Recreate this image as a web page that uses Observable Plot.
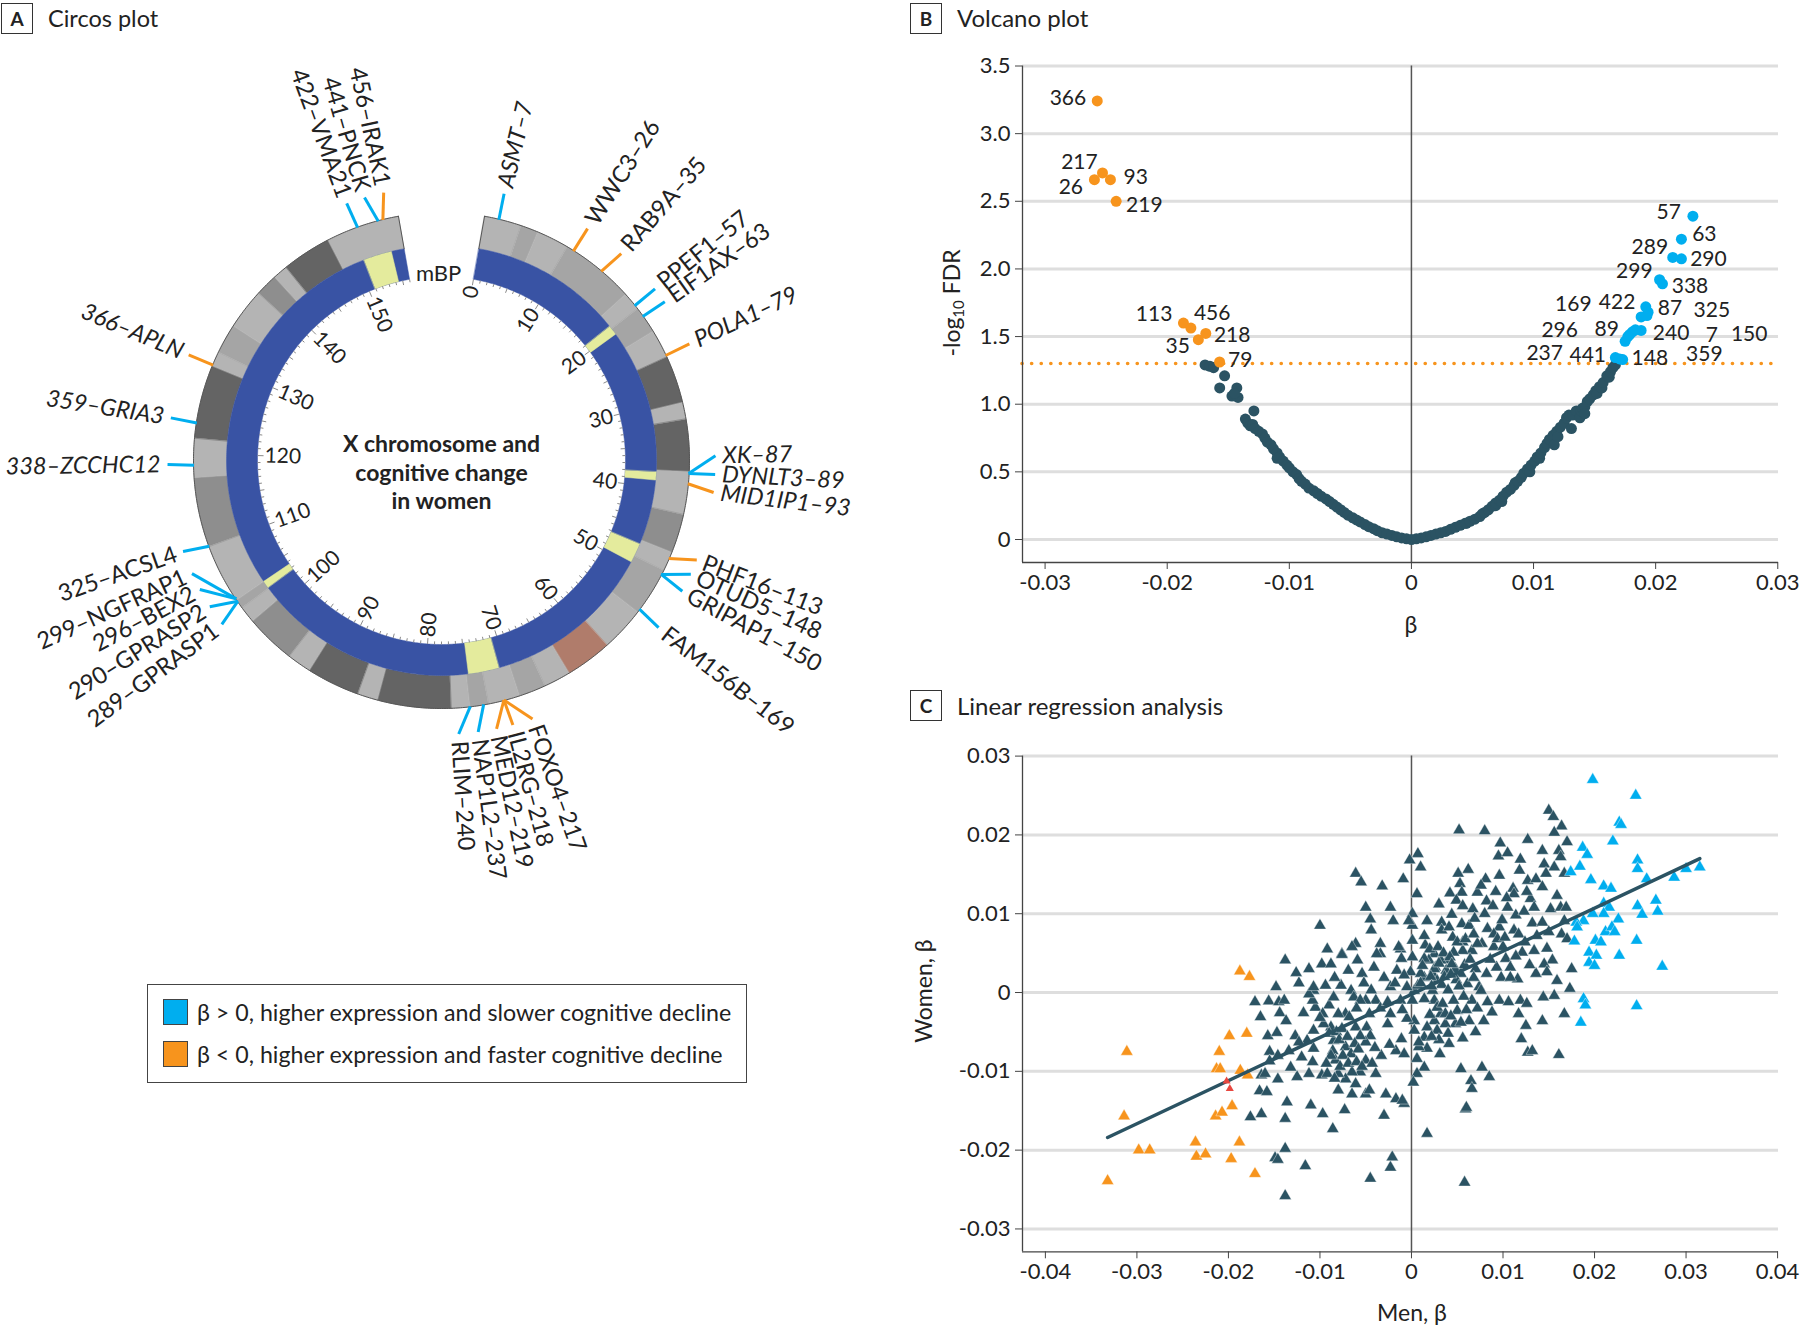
<!DOCTYPE html>
<html><head><meta charset="utf-8">
<script src="https://cdn.jsdelivr.net/npm/d3@7"></script>
<script src="https://cdn.jsdelivr.net/npm/@observablehq/plot@0.6"></script>
<style>
body{margin:0;background:#fff;}
#root{position:relative;width:1800px;height:1326px;overflow:hidden;font-family:Lato,"Open Sans",sans-serif;color:#222;}
.abs{position:absolute;white-space:nowrap;}
.pbox{box-sizing:border-box;width:32px;height:31px;border:1.5px solid #333;font-weight:bold;font-size:19px;display:flex;align-items:center;justify-content:center;}
.ptitle{font-size:24px;line-height:30px;}
</style></head>
<body><div id="root"></div>
<script>
const FONT = 'Lato, "Open Sans", "DejaVu Sans", sans-serif';
const BLUE = "#00aeef", ORANGE = "#f7941d", TEAL = "#2b5363", RINGBLUE = "#3953a4", YELLOW = "#e4eb9d";

// ---------------- Panel A: circos data ----------------
const chrLengthMb = 156;
// cytoband shading of outer ring: [start Mb, end Mb, shade]
const cytoBands = [[0,4.0,"L"],[4.0,5.9,"M"],[5.9,9.4,"L"],[9.4,17.4,"M"],[17.4,19.4,"L"],[19.4,22.3,"M"],[22.3,25.4,"L"],[25.4,30.5,"D"],[30.5,32.3,"L"],[32.3,37.9,"D"],[37.9,42.5,"L"],[42.5,46.7,"G"],[46.7,48.8,"L"],[48.8,54.0,"M"],[54.0,58.8,"L"],[58.8,63.8,"C"],[63.8,66.7,"L"],[66.7,69.6,"M"],[69.6,73.0,"L"],[73.0,75.0,"M"],[75.0,77.0,"L"],[77.0,84.9,"D"],[84.9,87.1,"L"],[87.1,92.8,"D"],[92.8,95.4,"L"],[95.4,100.8,"G"],[100.8,102.6,"L"],[102.6,103.6,"M"],[103.6,110.0,"L"],[110.0,117.5,"G"],[117.5,121.7,"L"],[121.7,129.6,"D"],[129.6,131.2,"L"],[131.2,134.4,"M"],[134.4,138.8,"L"],[138.8,141.2,"G"],[141.2,142.8,"L"],[142.8,148.1,"D"],[148.1,156,"L"]];
const shadeColors = {L:"#b4b4b4", M:"#a5a5a5", G:"#8e8e8e", D:"#646464", C:"#b07c6b"};
// highlighted gene regions on the inner (blue) ring
const highlightBands = [[19.0,20.2],[38.1,39.1],[47.2,49.6],[70.9,74.7],[102.7,103.6],[150.9,154.4]];
const chrTickLabels = [0,10,20,30,40,50,60,70,80,90,100,110,120,130,140,150];
// id, gene, ring position (Mb), label position (Mb), sign of beta, italic
const circosGenes = [
 [7,"ASMT",1.56,1.47,1,true],[26,"WWC3",10.19,10.19,-1,false],[35,"RAB9A",13.86,14.22,-1,false],
 [57,"PPEF1",18.95,18.9,1,false],[63,"EIF1AX",20.37,20.46,1,false],[79,"POLA1",25.19,25.14,-1,true],
 [87,"XK",38.08,36.25,1,true],[89,"DYNLT3",38.08,38.04,1,true],[93,"MID1IP1",39.18,39.78,-1,true],
 [113,"PHF16",47.4,46.48,-1,false],[148,"OTUD5",49.28,47.95,1,false],[150,"GRIPAP1",49.28,49.78,1,false],
 [169,"FAM156B",53.64,53.96,1,false],[217,"FOXO4",71.3,69.1,-1,false],[218,"IL2RG",71.3,71.07,-1,false],
 [219,"MED12",71.3,72.68,-1,false],[237,"NAP1L2",73.5,74.47,1,false],[240,"RLIM",74.93,76.35,1,false],
 [289,"GPRASP1",103.4,102.45,1,false],[290,"GPRASP2",103.4,104.5,1,false],[296,"BEX2",103.7,106.4,1,false],
 [299,"NGFRAP1",103.7,108.1,1,false],[325,"ACSL4",110.0,110.4,1,false],[338,"ZCCHC12",118.8,118.9,1,true],
 [359,"GRIA3",123.3,123.4,1,true],[366,"APLN",129.7,129.7,-1,true],[422,"VMA21",151.5,151.3,1,false],
 [441,"PNCK",153.8,153.1,1,false],[456,"IRAK1",154.3,155.0,-1,false]
];
const centerTitle = "X chromosome and\ncognitive change\nin women";
const legendLabels = ["β > 0, higher expression and slower cognitive decline", "β < 0, higher expression and faster cognitive decline"];

// ---------------- Panel B: volcano data (beta x 1e-3, -log10 FDR) ----------------
const volcanoNeg = [[-16.9,1.29],[-16.5,1.28],[-16.2,1.27],[-15.3,1.21],[-15.7,1.12],[-14.3,1.12],[-14.7,1.06],[-14.2,1.05],[-14.5,1.08],[-12.9,0.95],[-13.6,0.89],[-13.4,0.86],[-13.2,0.84],[-13.0,0.85],[-12.8,0.82],[-12.5,0.80],[-12.2,0.78],[-12.0,0.75],[-11.8,0.72],[-11.5,0.70],[-11.3,0.67],[-11.0,0.64],[-10.8,0.61],[-11.0,0.60],[-10.5,0.58],[-10.2,0.55],[-10.0,0.53],[-9.7,0.50],[-9.4,0.48],[-9.2,0.45],[-9.0,0.43],[-8.7,0.41],[-8.4,0.38],[-8.0,0.36],[-7.7,0.34],[-7.4,0.32],[-7.0,0.30],[-6.7,0.28],[-6.4,0.26],[-6.1,0.24],[-5.8,0.22],[-5.5,0.20],[-5.2,0.18],[-4.8,0.16],[-4.5,0.145],[-4.2,0.13],[-3.8,0.11],[-3.5,0.095],[-3.1,0.08],[-2.8,0.065],[-2.4,0.05],[-2.0,0.04],[-1.6,0.03],[-1.2,0.02],[-0.8,0.012],[-0.4,0.005],[0,0]];
const volcanoPos = [[0.4,0.005],[0.8,0.012],[1.2,0.02],[1.6,0.03],[2.0,0.04],[2.4,0.05],[2.8,0.06],[3.2,0.075],[3.6,0.09],[4.0,0.105],[4.4,0.12],[4.5,0.12],[4.8,0.135],[5.2,0.15],[5.6,0.17],[5.8,0.19],[6.0,0.2],[6.3,0.22],[6.6,0.245],[6.9,0.25],[6.9,0.27],[7.2,0.29],[7.4,0.28],[7.5,0.32],[7.8,0.35],[8.1,0.37],[8.4,0.4],[8.5,0.42],[8.7,0.43],[9.0,0.46],[9.2,0.49],[9.5,0.52],[9.7,0.5],[9.8,0.55],[10.1,0.58],[10.3,0.61],[10.5,0.6],[10.6,0.64],[10.9,0.68],[11.1,0.71],[11.3,0.74],[11.6,0.77],[11.7,0.7],[11.9,0.8],[12.0,0.76],[12.2,0.83],[12.5,0.86],[12.7,0.9],[12.9,0.92],[13.1,0.82],[13.2,0.92],[13.5,0.95],[13.8,0.9],[13.9,0.95],[14.0,0.97],[14.2,0.98],[14.2,0.93],[14.4,1.02],[14.6,1.04],[14.9,1.07],[15.1,1.1],[15.2,1.08],[15.4,1.13],[15.6,1.12],[15.7,1.16],[16.0,1.21],[16.2,1.2],[16.3,1.24],[16.5,1.27],[16.7,1.29]];
// id, beta x1e-3, -log10 FDR, label beta x1e-3, label -log10 FDR
const volcanoOrange = [[366,-25.73,3.242,-28.13,3.258],[217,-25.3,2.71,-27.19,2.789],[26,-25.96,2.66,-27.89,2.605],[93,-24.65,2.66,-22.58,2.675],[219,-24.18,2.50,-21.87,2.467],[113,-18.67,1.60,-21.07,1.664],[456,-18.06,1.563,-16.32,1.670],[218,-16.84,1.523,-14.68,1.511],[35,-17.45,1.477,-19.14,1.425],[79,-15.71,1.312,-14.02,1.324]];
const volcanoBlue = [[57,23.05,2.39,21.07,2.421],[63,22.11,2.22,23.99,2.259],[289,21.4,2.085,19.52,2.158],[290,22.11,2.075,24.32,2.069],[299,20.32,1.92,18.25,1.986],[338,20.56,1.89,22.81,1.869],[169,18.81,1.645,13.26,1.742],[422,19.19,1.72,16.84,1.757],[87,19.38,1.68,21.17,1.707],[325,19.29,1.655,24.6,1.695],[296,17.5,1.465,12.14,1.548],[89,17.87,1.515,15.99,1.555],[240,18.81,1.545,21.26,1.527],[7,18.34,1.55,24.6,1.512],[150,18.1,1.535,27.66,1.517],[237,16.7,1.345,10.91,1.377],[441,17.05,1.335,14.44,1.36],[148,17.3,1.33,19.52,1.337],[359,17.72,1.50,23.99,1.372]];
const volcanoXTicks = [-0.03,-0.02,-0.01,0,0.01,0.02,0.03];
const volcanoYTicks = [0,0.5,1,1.5,2,2.5,3,3.5];
const fdrThreshold = 1.301;

// ---------------- Panel C: men vs women beta (x1e-3) ----------------
const regDark = [[-14.8,0.7],[-17.1,-1.2],[-15.6,-1.1],[-14.5,-1.2],[-16.5,-3.1],[-14.4,-2.6],[-15.7,-5.5],[-14.7,-5.1],[-15.5,-7.5],[-14.6,-8.0],[-15.5,-8.7],[-16.4,-10.5],[-16.0,-10.3],[-14.6,-11.0],[-16.6,-12.5],[-15.8,-12.6],[-17.6,-15.8],[-16.4,-15.4],[-14.9,-21.0],[-14.6,-21.2],
[5.2,20.6],[8.0,20.5],[9.7,18.95],[9.5,17.3],[10.5,17.7],[12.7,19.4],[11.9,16.9],[11.8,15.5],[9.6,14.85],[8.1,14.4],[5.1,15.1],[6.2,15.6],[5.3,13.8],[4.2,12.6],[5.5,12.7],[7.2,12.7],[3.0,11.2],[4.9,11.7],[5.6,11.0],[8.2,11.6],[8.9,11.0],[11.1,13.2],[11.2,12.5],[12.7,14.2],[13.6,14.4],[13.0,11.9],[13.4,10.8],[11.4,9.8],[8.0,10.0],[4.4,9.9],[3.3,8.9],[3.3,7.9],[4.1,8.3],[5.5,8.7],[6.3,8.5],[8.3,8.1],[9.6,8.3],[11.2,7.9],[11.7,7.4],[13.2,8.8],[13.7,7.2],[12.1,5.1],[13.4,5.3],[10.3,4.3],[10.8,3.2],[11.6,1.7],[13.6,2.4],[9.0,5.8],[7.7,6.2],[6.6,5.3],[5.6,6.4],[5.6,5.3],[4.6,5.1],[4.8,3.0],[3.9,4.1],[3.8,2.8],[2.5,4.9],[1.9,4.1],[2.3,2.4],[1.4,1.9],[2.6,3.2],[2.8,1.5],[5.4,2.4],[6.1,1.1],[7.4,0.7],[8.2,2.4],[9.3,3.2],[9.8,1.9],[9.6,-1.0],[10.6,-1.2],[11.9,-1.0],[12.6,-1.4],[11.7,-2.7],[12.5,-4.2],[12.0,-5.9],[12.7,-7.6],[13.2,-7.4],[8.8,-2.5],[6.3,-3.6],[7.0,-5.0],[5.0,-2.3],[4.8,-4.0],[3.7,-4.0],[4.1,-6.5],[3.1,-7.8],[2.5,-3.6],[2.8,-4.8],[1.7,-4.4],[1.4,-5.7],[1.7,-7.1],[0.8,-6.9],[0.6,-8.4],[1.4,-9.5],[0.6,-10.3],[0.2,-11.4],[2.5,-1.0],[1.4,-0.8],[0.3,-3.6],[0.1,-1.0],[0.3,0.25],[0.7,0.9],[-0.1,2.6],[0.1,4.5],[0.1,6.6],[0.1,8.5],[0.1,10.0],[0.6,12.5],[1.0,15.9],[0.7,17.6],[-0.2,16.8],[-0.9,14.4],[-3.2,13.5],[-2.3,10.8],[-2.0,9.1],[-4.5,9.3],[-5.0,10.8],[-4.4,7.9],[-6.1,15.1],[-5.5,14.0],[-3.4,6.2],[-3.4,4.9],[-1.2,5.5],[-1.1,4.3],[-1.6,2.8],[-3.0,1.9],[-2.3,0.7],[-0.8,2.2],[-0.5,0.7],[-1.2,-1.0],[-2.3,-2.7],[-2.6,-4.0],[-3.9,-1.0],[-5.0,-1.0],[-4.6,-2.7],[-4.9,-4.4],[-4.5,-5.5],[-5.9,4.1],[-5.4,2.4],[-6.1,6.2],[-6.5,5.8],[-7.6,4.9],[-7.7,0.9],[-6.6,0.25],[-6.3,-0.6],[-7.2,-2.7],[-8.0,-2.7],[-9.0,-1.6],[-10.7,0.25],[-10.5,-1.9],[-10.8,-1.0],[-9.7,-2.7],[-8.8,-4.4],[-9.6,-4.0],[-8.5,-6.1],[-8.6,-7.4],[-8.3,-8.6],[-7.2,-6.9],[-6.6,-7.8],[-5.0,-6.3],[-5.0,-8.6],[-5.6,-10.1],[-6.5,-10.1],[-7.2,-11.0],[-8.0,-12.4],[-6.5,-12.9],[-5.0,-12.9],[-4.6,-12.4],[-3.9,-10.3],[-2.8,-12.9],[-1.7,-13.5],[-0.8,-14.1],[-1.0,-13.7],[-3.0,-15.6],[-9.7,-15.4],[-11.0,-14.3],[-12.5,-10.7],[-13.2,-9.5],[-11.2,-10.3],[-9.8,-10.5],[-10.8,-8.8],[-12.7,-5.5],[-13.4,-7.4],[-11.4,-6.1],[-10.7,-4.8],[-11.2,-0.2],[-10.7,0.7],[-13.8,4.1],[-12.6,2.5],[-11.2,3.0],[-9.8,3.6],[-8.8,3.6],[-9.2,5.5],[-7.6,4.8],[-10.0,8.5],[-13.9,-1.0],[-13.7,-3.6],[-13.6,-13.9],[-13.8,-16.0],[-7.3,-14.9],[-8.6,-17.3],[-13.8,-19.8],[-11.6,-22.0],[-13.8,-25.8],[-4.5,-23.6],[-2.3,-22.2],[-2.1,-20.9],[1.7,-17.9],[5.9,-14.8],[6.0,-14.6],[5.8,-24.1],[5.4,-9.7],[6.5,-11.2],[6.6,-12.2],[7.7,-9.5],[8.5,-10.7],[-1.7,-7.4],[-0.8,-7.8],[-1.1,-5.9],[-0.5,-3.3],[0.3,-4.8],[0.8,-6.3],[3.2,-2.7],[3.7,-2.7],[2.8,-1.9],[4.6,-1.0],[6.6,-1.0],[7.6,0.25],[2.3,0.25],[1.0,2.4],[1.5,6.0],[1.4,4.3],[2.5,3.0],[3.2,4.1],[4.5,7.0],[5.0,6.4],[5.9,6.8],[7.2,6.2],[6.8,7.4],[9.0,7.4],[9.4,6.8],[10.0,5.8],[10.8,1.9],[1.4,7.2],[1.7,9.1],[-0.3,9.1],[-1.4,5.8],[-3.8,4.9],[-4.1,3.2],[-5.6,-1.0],[-6.1,-4.4],[-5.6,-5.5],[-6.8,-3.1],[-10.7,-7.1],[-12.3,-6.3],[-9.2,-10.3],[-8.0,-10.3],
[15.0,23.1],[15.5,22.3],[16.4,21.1],[15.6,20.3],[17.0,19.1],[14.3,18.0],[16.1,18.0],[16.3,17.2],[14.5,16.3],[15.6,15.9],[16.7,15.1],[14.7,15.1],[14.3,13.4],[15.9,12.3],[15.2,10.6],[16.3,10.8],[16.9,10.8],[16.7,9.1],[14.3,8.9],[15.0,7.7],[16.4,7.4],[17.0,6.8],[14.8,5.6],[15.4,4.1],[14.5,3.6],[14.8,2.6],[15.9,1.5],[17.5,3.0],[17.3,0.5],[15.6,-0.4],[14.4,-0.6],[16.7,-2.7],[14.3,-3.6],[16.1,-7.9],
[2.0,5.5],[2.9,5.8],[3.5,5.0],[4.2,4.5],[4.4,3.6],[3.0,3.7],[2.1,2.0],[3.3,1.0],[4.0,0.3],[4.9,1.6],[5.8,3.5],[6.4,4.2],[7.0,3.0],[6.8,1.9],[5.2,0.8],[3.6,2.0],[2.2,0.8],[1.2,3.4],[1.0,1.2],[4.3,2.3],
[-9.0,-5.2],[-8.2,-5.0],[-7.6,-4.6],[-7.9,-6.0],[-7.0,-5.6],[-6.2,-6.5],[-5.8,-7.2],[-7.5,-8.0],[-8.8,-8.0],[-9.3,-9.0],[-7.8,-9.4],[-6.9,-9.0],[-6.0,-8.8],[-5.4,-9.4],[-8.4,-10.9],[-6.1,-11.6],[-4.3,-9.0],[-3.3,-8.0],[-4.0,-7.0],[-2.4,-6.6],
[2.0,-2.8],[3.4,-1.4],[4.3,-3.0],[5.4,-3.8],[6.0,-2.2],[5.7,-0.5],[7.2,-2.0],[7.9,-3.6],[8.3,-1.2],[4.0,-5.2],[3.0,-6.0],[5.6,-5.8],[2.2,-5.6],
[9.9,9.2],[10.5,10.8],[12.3,10.3],[12.6,12.8],[10.4,12.0],[9.2,12.8],[7.6,13.6],[6.7,10.6],[6.9,9.4],[10.2,7.0],[12.4,6.4],[12.9,3.5],[11.4,4.6],[8.6,4.2],
[-9.4,0.9],[-8.4,1.9],[-6.9,2.8],[-5.2,1.2],[-4.4,0.3],[-3.4,-2.0],[-2.6,-1.2],[-1.8,1.2],[-1.0,-2.2],[-6.0,-2.0],[-8.5,-0.6],[-10.0,-3.2],[-11.8,-2.6],[-12.3,1.2],[-12.0,-8.2]];
const regOrange = [[-18.75,2.7],[-17.7,2.0],[-19.9,-5.5],[-18.0,-5.2],[-31.1,-7.5],[-21.0,-7.5],[-21.3,-9.7],[-20.9,-9.7],[-18.7,-9.9],[-17.9,-10.5],[-31.4,-15.7],[-21.4,-15.7],[-20.7,-15.2],[-19.6,-14.4],[-29.8,-20.0],[-28.6,-20.0],[-23.6,-19.0],[-23.5,-20.8],[-22.5,-20.5],[-18.8,-19.0],[-19.7,-21.1],[-17.1,-23.0],[-33.2,-23.9]];
const regRed = [[-20.2,-11.25],[-19.85,-12.2]];
const regBlue = [[19.8,27.0],[24.5,25.0],[22.7,21.6],[22.9,21.3],[22.0,19.2],[18.7,18.4],[19.2,17.5],[18.4,16.0],[17.4,15.3],[19.6,14.3],[24.7,16.8],[24.7,15.7],[25.7,14.4],[28.7,14.6],[30.0,15.7],[31.5,15.9],[21.0,13.5],[21.8,13.2],[21.0,11.3],[21.6,10.8],[21.0,10.0],[19.8,10.0],[18.8,9.1],[18.0,8.9],[18.1,8.3],[22.6,9.3],[24.7,11.0],[25.2,9.9],[26.7,11.7],[26.9,10.3],[21.2,7.7],[21.9,8.3],[22.2,7.7],[20.1,6.6],[20.7,6.4],[17.8,6.5],[19.4,5.1],[20.2,4.7],[19.4,3.8],[20.0,3.4],[22.7,4.7],[24.6,6.6],[27.4,3.3],[18.8,-0.8],[19.0,-1.6],[24.6,-1.7],[18.5,-3.8]];
const regLineMen = [-0.0332, 0.0315];
const regLineWomen = [-0.0184, 0.0170];
const regXTicks = [-0.04,-0.03,-0.02,-0.01,0,0.01,0.02,0.03,0.04];
const regYTicks = [-0.03,-0.02,-0.01,0,0.01,0.02,0.03];

// ---------------- helpers ----------------
const root = document.getElementById("root");
function addDiv(html, style, cls) {
  const d = document.createElement("div");
  d.className = "abs" + (cls ? " " + cls : "");
  d.innerHTML = html;
  Object.assign(d.style, style);
  root.appendChild(d);
  return d;
}
function place(svg, left, top) {
  svg.style.position = "absolute";
  svg.style.left = left + "px";
  svg.style.top = top + "px";
  root.appendChild(svg);
}
const fmt2 = d => d === 0 ? "0" : (d < 0 ? "-" : "") + Math.abs(d).toFixed(2);
const fmt1 = d => d === 0 ? "0" : d.toFixed(1);
const milli = arr => arr.map(([x, y]) => ({x: x / 1000, y: y / 1000}));

// ---------------- Panel A ----------------
const ang = mb => 10 + mb * 340 / chrLengthMb;
const P = (mb, r) => { const a = ang(mb) * Math.PI / 180; return {x: r * Math.sin(a), y: r * Math.cos(a)}; };
const R = {outer: 248, mid: 215, inner: 184};
function ringPoly(key, s, e, r0, r1, fill) {
  const n = Math.max(2, Math.ceil((e - s) / 0.25));
  const pts = [];
  for (let i = 0; i <= n; i++) pts.push({key, fill, ...P(s + (e - s) * i / n, r1)});
  for (let i = n; i >= 0; i--) pts.push({key, fill, ...P(s + (e - s) * i / n, r0)});
  return pts;
}
const bandPolys = cytoBands.flatMap(([s, e, c], i) => ringPoly("b" + i, s, e, R.mid, R.outer, shadeColors[c]));
const bluePoly = ringPoly("blue", 0, chrLengthMb, R.inner, R.mid, RINGBLUE);
const yellowPolys = highlightBands.flatMap(([s, e], i) => ringPoly("y" + i, s, e, R.inner, R.mid, YELLOW));
const outline = [];
outline.push({k: "s", ...P(0, R.mid)}, {k: "s", ...P(0, R.outer)});
for (let m = 0; m <= chrLengthMb; m += 0.25) outline.push({k: "o", ...P(m, R.outer)});
outline.push({k: "e", ...P(chrLengthMb, R.outer)}, {k: "e", ...P(chrLengthMb, R.mid)});
const chrTicks = d3.range(0, chrLengthMb + 0.01, 1).map(m => {
  const len = m % 10 === 0 ? 6 : (m % 5 === 0 ? 4.5 : 3);
  const a = P(m, R.inner), b = P(m, R.inner - len);
  return {x1: a.x, y1: a.y, x2: b.x, y2: b.y};
});
const tickLabelRows = chrTickLabels.map(m => {
  const a = ang(m), right = a < 180, p = P(m, 177);
  return {text: String(m), x: p.x, y: p.y, right, rot: right ? a - 90 : a - 270};
});
const geneRows = circosGenes.map(([id, gene, pos, lpos, sign, ital]) => {
  const a = ang(lpos), right = a < 180;
  const b = P(pos, 247.5), e = P(lpos, 274), t = P(lpos, 281);
  return {text: right ? `${gene}–${id}` : `${id}–${gene}`, right, ital, color: sign > 0 ? BLUE : ORANGE,
          bx: b.x, by: b.y, ex: e.x, ey: e.y, tx: t.x, ty: t.y, rot: right ? a - 90 : a - 270};
});
const mbp = P(-5.0, 187);

const geneTextMarks = [[true, false], [true, true], [false, false], [false, true]].map(([rt, it]) =>
  Plot.text(geneRows.filter(d => d.right === rt && d.ital === it), {
    x: "tx", y: "ty", text: "text", rotate: "rot", textAnchor: rt ? "start" : "end",
    fontStyle: it ? "italic" : "normal", fontSize: 23.5, fill: "#222"
  }));

const circos = Plot.plot({
  width: 900, height: 940, margin: 0,
  x: {domain: [-441, 459], axis: null},
  y: {domain: [-520, 420], axis: null},
  color: {type: "identity"},
  style: {fontFamily: FONT, background: "transparent", overflow: "visible"},
  marks: [
    Plot.line(bandPolys, {x: "x", y: "y", z: "key", fill: "fill", stroke: "fill", strokeWidth: 0.5, curve: "linear-closed"}),
    Plot.line(bluePoly, {x: "x", y: "y", z: "key", fill: "fill", stroke: "fill", strokeWidth: 0.5, curve: "linear-closed"}),
    Plot.line(yellowPolys, {x: "x", y: "y", z: "key", fill: "fill", stroke: "fill", strokeWidth: 0.5, curve: "linear-closed"}),
    Plot.line(outline, {x: "x", y: "y", z: "k", stroke: "#555", strokeWidth: 1}),
    Plot.link(chrTicks, {x1: "x1", y1: "y1", x2: "x2", y2: "y2", stroke: "#8a8a8a", strokeWidth: 1}),
    Plot.text(tickLabelRows.filter(d => d.right), {x: "x", y: "y", text: "text", rotate: "rot", textAnchor: "end", fontSize: 21, fill: "#222"}),
    Plot.text(tickLabelRows.filter(d => !d.right), {x: "x", y: "y", text: "text", rotate: "rot", textAnchor: "start", fontSize: 21, fill: "#222"}),
    Plot.link(geneRows, {x1: "bx", y1: "by", x2: "ex", y2: "ey", stroke: "color", strokeWidth: 3}),
    ...geneTextMarks,
    Plot.text(["mBP"], {x: mbp.x, y: mbp.y, text: d => d, fontSize: 22, fill: "#222"}),
    Plot.text([centerTitle], {x: 0, y: 0, dy: 11, text: d => d, fontSize: 23, fontWeight: "bold", lineHeight: 1.24, fill: "#222"})
  ]
});
place(circos, 0, 40);

addDiv("A", {left: "1px", top: "3px"}, "pbox");
addDiv("Circos plot", {left: "48px", top: "3px", fontSize: "23.5px"}, "ptitle");

// legend
addDiv("", {left: "147px", top: "984px", width: "600px", height: "99px", border: "1px solid #444", boxSizing: "border-box"});
[BLUE, ORANGE].forEach((c, i) => {
  const top = 999 + i * 42;
  addDiv("", {left: "163px", top: top + "px", width: "25px", height: "26px", background: c, border: "1px solid #444", boxSizing: "border-box"});
  addDiv(legendLabels[i], {left: "197px", top: (top - 1) + "px", fontSize: "23.2px", lineHeight: "28px"});
});

// ---------------- Panel B ----------------
const volcDark = [...volcanoNeg, ...volcanoPos].map(([b, y]) => ({x: b / 1000, y}));
const volcHi = (arr, color) => arr.map(([id, b, y, lb, ly]) => ({id: String(id), x: b / 1000, y, lx: lb / 1000, ly, color}));
const vOrange = volcHi(volcanoOrange, ORANGE), vBlue = volcHi(volcanoBlue, BLUE);
const VX = [-0.03185, 0.03006], VY = [-0.17, 3.5];
const volcano = Plot.plot({
  width: 900, height: 600, marginLeft: 122, marginRight: 22, marginTop: 15.5, marginBottom: 88,
  x: {domain: VX}, y: {domain: VY},
  style: {fontFamily: FONT, fontSize: "22px", color: "#222", background: "transparent", overflow: "visible"},
  marks: [
    Plot.ruleY(volcanoYTicks, {stroke: "#dedede", strokeWidth: 3}),
    Plot.ruleY([fdrThreshold], {stroke: ORANGE, strokeWidth: 3.6, strokeDasharray: "0.1 9.5", strokeLinecap: "round"}),
    Plot.ruleX([0], {y1: VY[0], y2: VY[1], stroke: "#555", strokeWidth: 1.5}),
    Plot.ruleX([VX[0]], {y1: VY[0], y2: VY[1], stroke: "#444", strokeWidth: 1.3}),
    Plot.ruleY([VY[0]], {stroke: "#444", strokeWidth: 1.3}),
    Plot.axisX({ticks: volcanoXTicks, tickFormat: fmt2, tickSize: 7, tickPadding: 5, label: null, fontSize: 22, stroke: "#444"}),
    Plot.axisY({ticks: volcanoYTicks, tickFormat: fmt1, tickSize: 7, tickPadding: 5, label: null, fontSize: 22, stroke: "#444"}),
    Plot.dot(volcDark, {x: "x", y: "y", r: 5.5, fill: TEAL}),
    Plot.dot([...vOrange, ...vBlue], {x: "x", y: "y", r: 5.5, fill: "color"}),
    Plot.text([...vOrange, ...vBlue], {x: "lx", y: "ly", text: "id", fontSize: 21, fill: "#222"})
  ],
  color: {type: "identity"}
});
place(volcano, 900, 50);
addDiv("B", {left: "910px", top: "3px"}, "pbox");
addDiv("Volcano plot", {left: "957px", top: "3px"}, "ptitle");
addDiv("-log<sub style='font-size:15px;vertical-align:-4px'>10</sub> FDR", {left: "952px", top: "303px", transform: "translate(-50%,-50%) rotate(-90deg)", fontSize: "23px"});
addDiv("β", {left: "1411px", top: "624px", transform: "translate(-50%,-50%)", fontSize: "23px"});

// ---------------- Panel C ----------------
const CX = [-0.0425, 0.0401], CY = [-0.0329, 0.03];
const regression = regLineMen.map((x, i) => ({x, y: regLineWomen[i]}));
const scatter = Plot.plot({
  width: 900, height: 586, marginLeft: 122, marginRight: 22, marginTop: 15.6, marginBottom: 74.7,
  x: {domain: CX}, y: {domain: CY},
  style: {fontFamily: FONT, fontSize: "22px", color: "#222", background: "transparent", overflow: "visible"},
  marks: [
    Plot.ruleY(regYTicks, {stroke: "#dedede", strokeWidth: 3}),
    Plot.ruleX([0], {y1: CY[0], y2: CY[1], stroke: "#555", strokeWidth: 1.5}),
    Plot.ruleX([CX[0]], {y1: CY[0], y2: CY[1], stroke: "#444", strokeWidth: 1.3}),
    Plot.ruleY([CY[0]], {stroke: "#444", strokeWidth: 1.3}),
    Plot.axisX({ticks: regXTicks, tickFormat: fmt2, tickSize: 7, tickPadding: 5, label: null, fontSize: 22, stroke: "#444"}),
    Plot.axisY({ticks: regYTicks, tickFormat: fmt2, tickSize: 7, tickPadding: 5, label: null, fontSize: 22, stroke: "#444"}),
    Plot.dot(milli(regDark), {x: "x", y: "y", r: 4.6, symbol: "triangle", fill: TEAL, stroke: "white", strokeWidth: 0.4}),
    Plot.dot(milli(regOrange), {x: "x", y: "y", r: 4.6, symbol: "triangle", fill: ORANGE, stroke: "white", strokeWidth: 0.4}),
    Plot.dot(milli(regBlue), {x: "x", y: "y", r: 4.6, symbol: "triangle", fill: BLUE, stroke: "white", strokeWidth: 0.4}),
    Plot.line(regression, {x: "x", y: "y", stroke: TEAL, strokeWidth: 3.5}),
    Plot.dot(milli(regRed), {x: "x", y: "y", r: 3, symbol: "triangle", fill: "#e8473f"})
  ]
});
place(scatter, 900, 740);
addDiv("C", {left: "910px", top: "690px"}, "pbox");
addDiv("Linear regression analysis", {left: "957px", top: "691px"}, "ptitle");
addDiv("Women, β", {left: "923px", top: "991px", transform: "translate(-50%,-50%) rotate(-90deg)", fontSize: "23px"});
addDiv("Men, β", {left: "1412px", top: "1312px", transform: "translate(-50%,-50%)", fontSize: "23px"});
</script></body></html>
